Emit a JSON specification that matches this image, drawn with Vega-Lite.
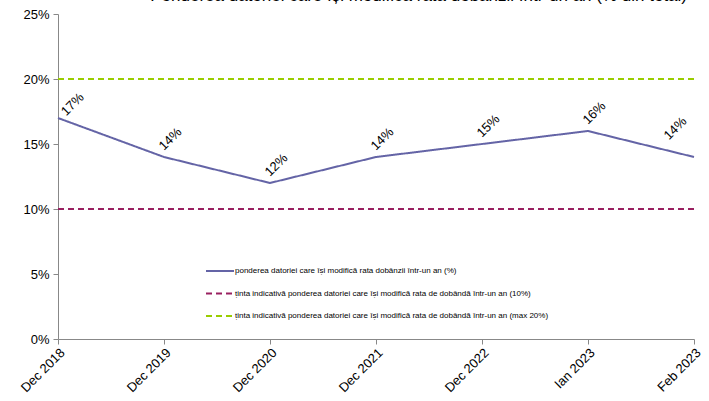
{
  "$schema": "https://vega.github.io/schema/vega-lite/v6.json",
  "autosize": {"type": "none"},
  "width": 636,
  "height": 325,
  "padding": {"left": 58, "top": 14, "right": 15, "bottom": 62},
  "background": "white",
  "title": {
    "text": "Ponderea datoriei care își modifică rata dobânzii într-un an (% din total)",
    "font": "Liberation Sans",
    "fontSize": 17,
    "fontWeight": "normal",
    "color": "#000000",
    "anchor": "end",
    "frame": "group",
    "baseline": "alphabetic",
    "offset": -10,
    "dx": -7
  },
  "data": {
    "values": [
      {"luna": "Dec 2018", "serie": "ponderea datoriei care își modifică rata dobânzii într-un an (%)", "valoare": 17},
      {"luna": "Dec 2019", "serie": "ponderea datoriei care își modifică rata dobânzii într-un an (%)", "valoare": 14},
      {"luna": "Dec 2020", "serie": "ponderea datoriei care își modifică rata dobânzii într-un an (%)", "valoare": 12},
      {"luna": "Dec 2021", "serie": "ponderea datoriei care își modifică rata dobânzii într-un an (%)", "valoare": 14},
      {"luna": "Dec 2022", "serie": "ponderea datoriei care își modifică rata dobânzii într-un an (%)", "valoare": 15},
      {"luna": "Ian 2023", "serie": "ponderea datoriei care își modifică rata dobânzii într-un an (%)", "valoare": 16},
      {"luna": "Feb 2023", "serie": "ponderea datoriei care își modifică rata dobânzii într-un an (%)", "valoare": 14},
      {"luna": "Dec 2018", "serie": "ținta indicativă ponderea datoriei  care își modifică rata de dobândă într-un an (10%)", "valoare": 10},
      {"luna": "Dec 2019", "serie": "ținta indicativă ponderea datoriei  care își modifică rata de dobândă într-un an (10%)", "valoare": 10},
      {"luna": "Dec 2020", "serie": "ținta indicativă ponderea datoriei  care își modifică rata de dobândă într-un an (10%)", "valoare": 10},
      {"luna": "Dec 2021", "serie": "ținta indicativă ponderea datoriei  care își modifică rata de dobândă într-un an (10%)", "valoare": 10},
      {"luna": "Dec 2022", "serie": "ținta indicativă ponderea datoriei  care își modifică rata de dobândă într-un an (10%)", "valoare": 10},
      {"luna": "Ian 2023", "serie": "ținta indicativă ponderea datoriei  care își modifică rata de dobândă într-un an (10%)", "valoare": 10},
      {"luna": "Feb 2023", "serie": "ținta indicativă ponderea datoriei  care își modifică rata de dobândă într-un an (10%)", "valoare": 10},
      {"luna": "Dec 2018", "serie": "ținta indicativă ponderea datoriei care își modifică rata de dobândă într-un an (max 20%)", "valoare": 20},
      {"luna": "Dec 2019", "serie": "ținta indicativă ponderea datoriei care își modifică rata de dobândă într-un an (max 20%)", "valoare": 20},
      {"luna": "Dec 2020", "serie": "ținta indicativă ponderea datoriei care își modifică rata de dobândă într-un an (max 20%)", "valoare": 20},
      {"luna": "Dec 2021", "serie": "ținta indicativă ponderea datoriei care își modifică rata de dobândă într-un an (max 20%)", "valoare": 20},
      {"luna": "Dec 2022", "serie": "ținta indicativă ponderea datoriei care își modifică rata de dobândă într-un an (max 20%)", "valoare": 20},
      {"luna": "Ian 2023", "serie": "ținta indicativă ponderea datoriei care își modifică rata de dobândă într-un an (max 20%)", "valoare": 20},
      {"luna": "Feb 2023", "serie": "ținta indicativă ponderea datoriei care își modifică rata de dobândă într-un an (max 20%)", "valoare": 20}
    ]
  },
  "config": {
    "view": {"stroke": null},
    "font": "Liberation Sans"
  },
  "encoding": {
    "x": {
      "field": "luna",
      "type": "ordinal",
      "sort": ["Dec 2018", "Dec 2019", "Dec 2020", "Dec 2021", "Dec 2022", "Ian 2023", "Feb 2023"],
      "scale": {"type": "point", "padding": 0},
      "axis": {
        "title": null,
        "labelAngle": -45,
        "labelAlign": "right",
        "labelBaseline": "top",
        "labelFont": "Liberation Sans",
        "labelFontSize": 13,
        "labelColor": "#000000",
        "labelPadding": 2,
        "domainColor": "#888888",
        "tickColor": "#888888",
        "tickSize": 5,
        "grid": false
      }
    },
    "y": {
      "field": "valoare",
      "type": "quantitative",
      "scale": {"domain": [0, 25], "nice": false},
      "axis": {
        "title": null,
        "values": [0, 5, 10, 15, 20, 25],
        "labelExpr": "datum.value + '%'",
        "labelFont": "Liberation Sans",
        "labelFontSize": 13,
        "labelColor": "#000000",
        "labelPadding": 4,
        "domainColor": "#888888",
        "tickColor": "#888888",
        "tickSize": 5,
        "grid": false
      }
    }
  },
  "layer": [
    {
      "mark": {"type": "line", "strokeWidth": 2},
      "encoding": {
        "color": {
          "field": "serie",
          "type": "nominal",
          "scale": {
            "domain": [
              "ponderea datoriei care își modifică rata dobânzii într-un an (%)",
              "ținta indicativă ponderea datoriei  care își modifică rata de dobândă într-un an (10%)",
              "ținta indicativă ponderea datoriei care își modifică rata de dobândă într-un an (max 20%)"
            ],
            "range": ["#6464A6", "#992060", "#99CC00"]
          },
          "legend": {
            "title": null,
            "orient": "none",
            "legendX": 151,
            "legendY": 246,
            "symbolType": "M-1.4,0L1.4,0",
            "symbolSize": 400,
            "symbolStrokeWidth": 2,
            "symbolFillColor": "transparent",
            "labelFont": "Liberation Sans",
            "labelFontSize": 8,
            "labelColor": "#000000",
            "labelLimit": 500,
            "rowPadding": 7.5,
            "labelOffset": 4
          }
        },
        "strokeDash": {
          "field": "serie",
          "type": "nominal",
          "scale": {
            "domain": [
              "ponderea datoriei care își modifică rata dobânzii într-un an (%)",
              "ținta indicativă ponderea datoriei  care își modifică rata de dobândă într-un an (10%)",
              "ținta indicativă ponderea datoriei care își modifică rata de dobândă într-un an (max 20%)"
            ],
            "range": [[1, 0], [6, 4], [6, 4]]
          }
        }
      }
    },
    {
      "transform": [{"filter": "datum.valoare < 19 && datum.valoare != 10 && datum.luna != 'Dec 2018' && datum.luna != 'Feb 2023'"}],
      "mark": {
        "type": "text",
        "angle": -45,
        "align": "center",
        "baseline": "middle",
        "radius": 19,
        "theta": 0.34,
        "text": {"expr": "datum.valoare + '%'"},
        "font": "Liberation Sans",
        "fontSize": 13,
        "color": "#000000"
      },
      "encoding": {
        "detail": {"field": "serie"}
      }
    },
    {
      "transform": [{"filter": "datum.valoare == 17 && datum.luna == 'Dec 2018'"}],
      "mark": {
        "type": "text",
        "angle": -45,
        "align": "center",
        "baseline": "middle",
        "radius": 20,
        "theta": 0.82,
        "text": {"expr": "datum.valoare + '%'"},
        "font": "Liberation Sans",
        "fontSize": 13,
        "color": "#000000"
      },
      "encoding": {
        "detail": {"field": "serie"}
      }
    },
    {
      "transform": [{"filter": "datum.valoare == 14 && datum.luna == 'Feb 2023'"}],
      "mark": {
        "type": "text",
        "angle": -45,
        "align": "center",
        "baseline": "middle",
        "radius": 34,
        "theta": -0.58,
        "text": {"expr": "datum.valoare + '%'"},
        "font": "Liberation Sans",
        "fontSize": 13,
        "color": "#000000"
      },
      "encoding": {
        "detail": {"field": "serie"}
      }
    }
  ]
}
